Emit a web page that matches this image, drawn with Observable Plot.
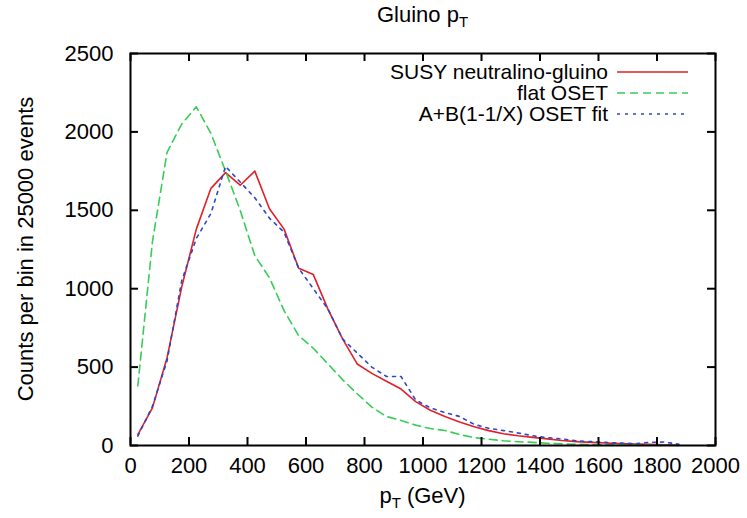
<!DOCTYPE html>
<html><head><meta charset="utf-8">
<script src="https://cdn.jsdelivr.net/npm/d3@7"></script>
<script src="https://cdn.jsdelivr.net/npm/@observablehq/plot@0.6"></script>
<style>body{margin:0;background:#fff}#chart{width:747px;height:518px}</style>
</head><body><div id="chart"></div>
<script>
const pt = [25,75,125,175,225,275,325,375,425,475,525,575,625,675,725,775,825,875,925,975,1025,1075,1125,1175,1225,1275,1325,1375,1425,1475,1525,1575,1625,1675,1725,1775,1825,1875];
const susy = [70,240,560,1010,1380,1640,1740,1660,1750,1510,1380,1130,1090,870,680,520,460,410,360,280,225,185,150,120,95,75,62,52,42,32,25,20,16,12,9,7,5,3];
const flat = [380,1300,1870,2050,2160,1990,1750,1500,1210,1070,860,700,620,520,420,330,245,185,160,130,108,96,70,50,40,30,24,20,14,11,8,6,5,4,3,2,2,1];
const fit = [60,250,540,1050,1320,1480,1780,1680,1580,1450,1360,1130,1000,870,680,590,500,440,440,290,240,210,185,135,110,95,80,62,50,42,30,25,20,15,12,20,22,8];
const seriesNames = ["SUSY neutralino-gluino","flat OSET","A+B(1-1/X) OSET fit"];
const seriesValues = [susy, flat, fit];
const seriesColors = ["#e0202a","#38cc58","#2a48c8"];
const seriesDash = [null,"8,5","3,5"];
const xTicks = d3.range(0,2001,200);
const yTicks = d3.range(0,2501,500);

const W = 747, H = 518, mL = 130, mR = 32, mT = 53, mB = 73;
const innerW = W - mL - mR, innerH = H - mT - mB;
const font = "'Liberation Sans', Arial, Helvetica, sans-serif";
const FS = 22;
const TL = 8;

const rows = [];
seriesNames.forEach((n,i)=>pt.forEach((x,j)=>rows.push({series:n, x, y:seriesValues[i][j]})));

const lineMarks = seriesNames.map((n,i)=>Plot.line(rows.filter(r=>r.series===n), {
  x:"x", y:"y", stroke: seriesColors[i], strokeWidth: 1.6, strokeDasharray: seriesDash[i]
}));

const plot = Plot.plot({
  width: W, height: H,
  marginLeft: mL, marginRight: mR, marginTop: mT, marginBottom: mB,
  style: {fontSize: FS + "px", fontFamily: font},
  x: {domain: [0,2000], ticks: xTicks, tickSize: 0, tickPadding: 12, label: null, tickFormat: d => String(d)},
  y: {domain: [0,2500], ticks: yTicks, tickSize: 0, tickPadding: 17, label: null, tickFormat: d => String(d)},
  marks: [
    ...lineMarks,
    Plot.tickX(xTicks, {x: d=>d, insetTop: innerH-TL, stroke:"black", strokeWidth: 2}),
    Plot.tickX(xTicks, {x: d=>d, insetBottom: innerH-TL, stroke:"black", strokeWidth: 2}),
    Plot.tickY(yTicks, {y: d=>d, insetRight: innerW-TL, stroke:"black", strokeWidth: 2}),
    Plot.tickY(yTicks, {y: d=>d, insetLeft: innerW-TL, stroke:"black", strokeWidth: 2}),
    Plot.frame({stroke: "black", strokeWidth: 2})
  ]
});

const svg = d3.select(plot);
const cx = mL + innerW/2;
// title
const t = svg.append("text").attr("x", cx).attr("y", 22).attr("text-anchor","middle")
  .attr("font-size", FS).attr("font-family", font);
t.append("tspan").text("Gluino p");
t.append("tspan").attr("font-size", 15).attr("dy", 5).text("T");
// x label
const xl = svg.append("text").attr("x", cx).attr("y", 503).attr("text-anchor","middle")
  .attr("font-size", FS).attr("font-family", font);
xl.append("tspan").text("p");
xl.append("tspan").attr("font-size", 15).attr("dy", 5).text("T");
xl.append("tspan").attr("dy", -5).text(" (GeV)");
// y label
svg.append("text").attr("transform", `translate(33,${mT+innerH/2}) rotate(-90)`)
  .attr("text-anchor","middle").attr("font-size", FS).attr("font-family", font)
  .text("Counts per bin in 25000 events");
// legend
seriesNames.forEach((n,i)=>{
  const y = 72 + i*21;
  svg.append("text").attr("x", 608).attr("y", y).attr("dy","0.35em").attr("text-anchor","end")
    .attr("font-size", 21).attr("font-family", font).text(n);
  svg.append("line").attr("x1", 617).attr("x2", 688).attr("y1", y).attr("y2", y)
    .attr("stroke", seriesColors[i]).attr("stroke-width", 1.6)
    .attr("stroke-dasharray", seriesDash[i]);
});
document.getElementById("chart").appendChild(plot);
</script></body></html>
